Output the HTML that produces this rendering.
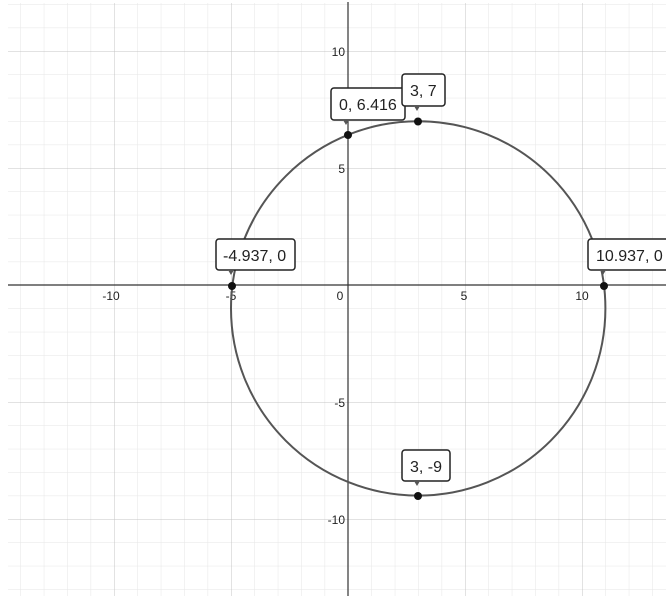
<!DOCTYPE html>
<html><head><style>html,body{margin:0;padding:0;background:#fff}svg{display:block}text{font-family:"Liberation Sans",Arial,sans-serif}</style></head>
<body>
<svg width="666" height="596" viewBox="0 0 666 596" xmlns="http://www.w3.org/2000/svg">
<defs>
<pattern id="mi" patternUnits="userSpaceOnUse" x="348" y="285" width="23.4" height="23.4">
<path d="M0 0V23.4M0 0H23.4" stroke="#e6e6e6" stroke-width="1" fill="none"/>
</pattern>
<pattern id="ma" patternUnits="userSpaceOnUse" x="348" y="285" width="117" height="117">
<path d="M0 0V117M0 0H117" stroke="#c4c4c4" stroke-width="1" fill="none"/>
</pattern>
</defs>
<rect x="8" y="3" width="658" height="593" fill="url(#mi)"/>
<rect x="8" y="3" width="658" height="593" fill="url(#ma)"/>
<line x1="8" y1="285" x2="666" y2="285" stroke="#333" stroke-width="1.2"/>
<line x1="348" y1="2" x2="348" y2="596" stroke="#333" stroke-width="1.2"/>
<g font-size="12" fill="#222" text-anchor="middle">
<text x="111" y="300">-10</text>
<text x="231" y="300">-5</text>
<text x="340" y="300">0</text>
<text x="464" y="300">5</text>
<text x="582" y="300">10</text>
</g>
<g font-size="12" fill="#222" text-anchor="end">
<text x="345" y="56">10</text>
<text x="345" y="173">5</text>
<text x="345" y="407">-5</text>
<text x="345" y="524">-10</text>
</g>
<circle cx="418.2" cy="308.4" r="187.2" fill="none" stroke="#555" stroke-width="2"/>
<g fill="#111">
<circle cx="348" cy="135" r="4"/>
<circle cx="418" cy="121.5" r="4"/>
<circle cx="232" cy="286" r="4"/>
<circle cx="604" cy="286" r="4"/>
<circle cx="418" cy="496" r="4"/>
</g>
<g font-size="16" fill="#222">
<rect x="331" y="88" width="74" height="32" rx="3" fill="#fff" stroke="#222" stroke-width="1.5"/>
<path d="M343 120l3 5 3-5z" fill="#555"/>
<text x="339" y="110">0, 6.416</text>
<rect x="402" y="74" width="43" height="32" rx="3" fill="#fff" stroke="#222" stroke-width="1.5"/>
<path d="M414 106l3 5 3-5z" fill="#555"/>
<text x="410" y="96">3, 7</text>
<rect x="216" y="239" width="79" height="31" rx="3" fill="#fff" stroke="#222" stroke-width="1.5"/>
<path d="M228 270l3 5 3-5z" fill="#555"/>
<text x="223" y="261">-4.937, 0</text>
<rect x="588" y="239" width="84" height="31" rx="3" fill="#fff" stroke="#222" stroke-width="1.5"/>
<path d="M600 270l3 5 3-5z" fill="#555"/>
<text x="596" y="261">10.937, 0</text>
<rect x="402" y="450" width="48" height="31" rx="3" fill="#fff" stroke="#222" stroke-width="1.5"/>
<path d="M414 481l3 5 3-5z" fill="#555"/>
<text x="410" y="472">3, -9</text>
</g>
</svg>
</body></html>
